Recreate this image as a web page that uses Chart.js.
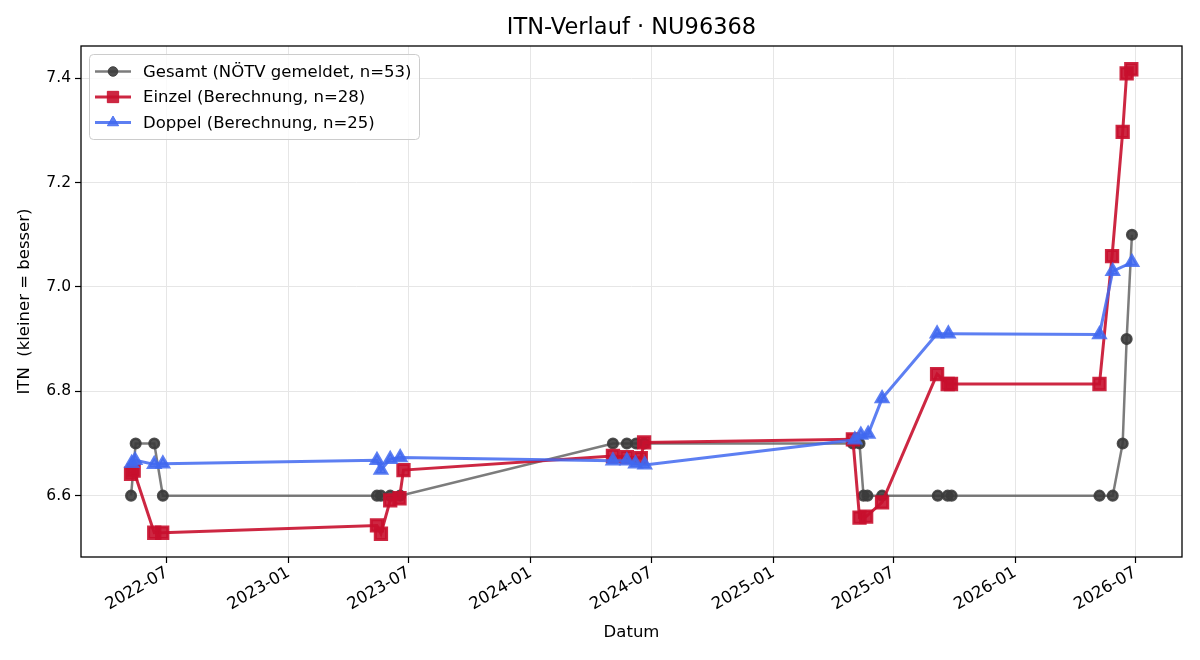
<!DOCTYPE html>
<html>
<head>
<meta charset="utf-8">
<script src="https://cdn.jsdelivr.net/npm/chart.js@4/dist/chart.umd.min.js"></script>
<style>
  html, body { margin: 0; padding: 0; background: #fff; }
</style>
</head>
<body>
<canvas id="itnChart" width="1200" height="660"></canvas>
<script>
// Gesamt (NÖTV gemeldet)
const gesamtDaten = ['2022-05-08', '2022-05-15', '2022-06-12', '2022-06-25', '2023-05-14', '2023-05-20', '2023-06-03',
  '2023-06-18', '2024-05-04', '2024-05-25', '2024-06-08', '2024-06-20', '2025-05-01', '2025-05-11', '2025-05-17',
  '2025-05-23', '2025-06-14', '2025-09-06', '2025-09-21', '2025-09-27', '2026-05-08', '2026-05-28', '2026-06-12',
  '2026-06-18', '2026-06-26'];
const gesamtWerte = [6.6, 6.7, 6.7, 6.6, 6.6, 6.6, 6.6, 6.6, 6.7, 6.7, 6.7, 6.7, 6.7, 6.7, 6.6, 6.6, 6.6, 6.6, 6.6,
  6.6, 6.6, 6.6, 6.7, 6.9, 7.1];

// Einzel (Berechnung)
const einzelDaten = ['2022-05-08', '2022-05-12', '2022-06-12', '2022-06-24', '2023-05-14', '2023-05-20', '2023-06-03',
  '2023-06-17', '2023-06-23', '2024-05-04', '2024-05-25', '2024-06-15', '2024-06-20', '2025-05-01', '2025-05-11',
  '2025-05-21', '2025-06-14', '2025-09-05', '2025-09-21', '2025-09-26', '2026-05-08', '2026-05-27', '2026-06-12',
  '2026-06-18', '2026-06-25'];
const einzelWerte = [6.642, 6.648, 6.529, 6.529, 6.543, 6.527, 6.591, 6.595, 6.649, 6.676, 6.674, 6.672, 6.702, 6.708,
  6.558, 6.560, 6.587, 6.833, 6.814, 6.814, 6.814, 7.059, 7.297, 7.409, 7.417];

// Doppel (Berechnung)
const doppelDaten = ['2022-05-09', '2022-05-14', '2022-06-12', '2022-06-25', '2023-05-14', '2023-05-20', '2023-06-03',
  '2023-06-18', '2024-05-04', '2024-05-25', '2024-06-07', '2024-06-21', '2025-05-04', '2025-05-13', '2025-05-24',
  '2025-06-14', '2025-09-05', '2025-09-22', '2026-05-08', '2026-05-28', '2026-06-26'];
const doppelWerte = [6.662, 6.668, 6.660, 6.661, 6.668, 6.649, 6.670, 6.673, 6.667, 6.667, 6.661, 6.659, 6.707, 6.716,
  6.718, 6.786, 6.910, 6.910, 6.909, 7.030, 7.047];

// Achsenbeschriftungen
const xTickDaten = ['2022-07-01', '2023-01-01', '2023-07-01', '2024-01-01', '2024-07-01', '2025-01-01', '2025-07-01',
  '2026-01-01', '2026-07-01'];
const xTickLabels = ['2022-07', '2023-01', '2023-07', '2024-01', '2024-07', '2025-01', '2025-07', '2026-01', '2026-07'];
const yTicks = [6.6, 6.8, 7.0, 7.2, 7.4];

const ts = (s) => Date.parse(s + 'T00:00:00Z');
const punkte = (daten, werte) => daten.map((d, i) => ({x: ts(d), y: werte[i]}));

// Achsenbereich wie bei matplotlib: Datenbereich plus 5 % Rand
const alleX = [...gesamtDaten, ...einzelDaten, ...doppelDaten].map(ts);
const alleY = [...gesamtWerte, ...einzelWerte, ...doppelWerte];
const xMin = Math.min(...alleX), xMax = Math.max(...alleX);
const yMin = Math.min(...alleY), yMax = Math.max(...alleY);
const xRand = (xMax - xMin) * 0.05, yRand = (yMax - yMin) * 0.05;

Chart.defaults.font.family = '"DejaVu Sans", sans-serif';
Chart.defaults.color = '#000';

// Rahmen um den Plotbereich (oben und rechts fehlen sonst)
const rahmen = {
  id: 'rahmen',
  afterDraw(chart) {
    const {ctx, chartArea: a} = chart;
    ctx.save();
    ctx.strokeStyle = '#000';
    ctx.lineWidth = 1.3;
    ctx.strokeRect(a.left, a.top, a.right - a.left, a.bottom - a.top);
    ctx.restore();
  }
};

// Legende oben links im Plotbereich
const legende = {
  id: 'legende',
  afterDraw(chart) {
    const ctx = chart.ctx;
    ctx.save();
    ctx.beginPath();
    ctx.roundRect(89.5, 54.5, 330, 85, 4);
    ctx.fillStyle = 'rgba(255,255,255,0.8)';
    ctx.fill();
    ctx.strokeStyle = '#cccccc';
    ctx.lineWidth = 1;
    ctx.stroke();
    chart.data.datasets.forEach((ds, i) => {
      const y = 71.5 + i * 25.5;
      ctx.strokeStyle = ds.borderColor;
      ctx.lineWidth = ds.borderWidth;
      ctx.beginPath();
      ctx.moveTo(95, y);
      ctx.lineTo(131, y);
      ctx.stroke();
      ctx.fillStyle = ds.pointBackgroundColor;
      ctx.strokeStyle = ds.pointBorderColor;
      ctx.lineWidth = 1;
      Chart.helpers.drawPoint(ctx, {pointStyle: ds.pointStyle, radius: ds.pointRadius, borderWidth: 1, rotation: 0}, 113, y);
      ctx.fillStyle = '#000';
      ctx.font = '16.5px "DejaVu Sans"';
      ctx.textBaseline = 'middle';
      ctx.textAlign = 'left';
      ctx.fillText(ds.label, 143, y + 1);
    });
    ctx.restore();
  }
};

const config = {
  type: 'line',
  data: {
    datasets: [{
      label: 'Gesamt (NÖTV gemeldet, n=53)',
      data: punkte(gesamtDaten, gesamtWerte),
      borderColor: 'rgba(68,68,68,0.7)',
      borderWidth: 2.5,
      pointStyle: 'circle',
      pointRadius: 4.8,
      pointBackgroundColor: 'rgba(60,60,60,0.9)',
      pointBorderColor: 'rgba(60,60,60,0.9)',
      order: 3
    }, {
      label: 'Einzel (Berechnung, n=28)',
      data: punkte(einzelDaten, einzelWerte),
      borderColor: 'rgba(200,16,46,0.9)',
      borderWidth: 3,
      pointStyle: 'rect',
      pointRadius: 8,
      pointBackgroundColor: 'rgba(200,16,46,0.9)',
      pointBorderColor: 'rgba(200,16,46,0.9)',
      order: 2
    }, {
      label: 'Doppel (Berechnung, n=25)',
      data: punkte(doppelDaten, doppelWerte),
      borderColor: 'rgba(65,105,240,0.85)',
      borderWidth: 3,
      pointStyle: 'triangle',
      pointRadius: 6.5,
      pointBackgroundColor: 'rgba(65,105,240,0.85)',
      pointBorderColor: 'rgba(65,105,240,0.85)',
      order: 1
    }]
  },
  options: {
    responsive: false,
    animation: false,
    layout: {padding: {left: 0, right: 18, top: 0, bottom: 0}},
    plugins: {
      legend: {display: false},
      tooltip: {enabled: false},
      title: {
        display: true,
        fullSize: false,
        text: 'ITN-Verlauf · NU96368',
        font: {size: 22.5, weight: 'normal'},
        color: '#000',
        padding: {top: 14.5, bottom: 4.5}
      }
    },
    scales: {
      x: {
        type: 'linear',
        min: xMin - xRand,
        max: xMax + xRand,
        afterBuildTicks: (scale) => { scale.ticks = xTickDaten.map(d => ({value: ts(d)})); },
        afterFit: (scale) => { scale.height = 103; },
        ticks: {
          autoSkip: false,
          minRotation: 30,
          maxRotation: 30,
          padding: 0,
          font: {size: 16.5},
          callback: (value, index) => xTickLabels[index]
        },
        grid: {color: '#e6e6e6', lineWidth: 1, tickLength: 6, tickColor: '#000', tickWidth: 1.2},
        border: {display: false},
        title: {display: true, text: 'Datum', font: {size: 16.5}, padding: {top: 0, bottom: 17}}
      },
      y: {
        type: 'linear',
        min: yMin - yRand,
        max: yMax + yRand,
        afterBuildTicks: (scale) => { scale.ticks = yTicks.map(v => ({value: v})); },
        afterFit: (scale) => { scale.width = 81; },
        ticks: {
          padding: 4,
          font: {size: 15.5},
          callback: (value) => Number(value).toFixed(1)
        },
        grid: {color: '#e6e6e6', lineWidth: 1, tickLength: 6, tickColor: '#000', tickWidth: 1.2},
        border: {display: false},
        title: {display: true, text: 'ITN  (kleiner = besser)', font: {size: 16.5}, padding: {top: 15, bottom: 0}}
      }
    }
  },
  plugins: [rahmen, legende]
};

const itnChart = new Chart(document.getElementById('itnChart'), config);
</script>
</body>
</html>
